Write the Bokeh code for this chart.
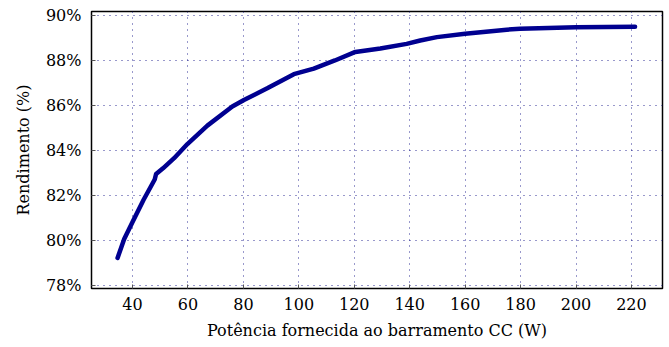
from bokeh.plotting import figure
from bokeh.models import FixedTicker, PrintfTickFormatter, Range1d
from bokeh.embed import file_html
from bokeh.resources import INLINE

potencia = [34.6, 37.0, 40.0, 44.0, 48.0, 48.5, 51.0, 55.0, 59.8, 67.0, 76.0, 80.2, 88.6,
            98.2, 105.4, 113.0, 120.4, 129.4, 138.9, 143.8, 149.8, 160.0, 175.0, 179.8,
            200.0, 221.3]
rendimento = [79.21, 80.05, 80.81, 81.80, 82.70, 82.95, 83.20, 83.65, 84.28, 85.10, 85.95,
              86.24, 86.76, 87.39, 87.64, 88.00, 88.38, 88.53, 88.74, 88.89, 89.04, 89.19,
              89.37, 89.41, 89.48, 89.50]
x_ticks = [40, 60, 80, 100, 120, 140, 160, 180, 200, 220]
y_ticks = [78, 80, 82, 84, 86, 88, 90]
x_label = "Potência fornecida ao barramento CC (W)"
y_label = "Rendimento (%)"

FONT = "DejaVu Serif"

p = figure(width=664, height=342, output_backend="svg", toolbar_location=None,
           x_range=Range1d(25.2, 231.2), y_range=Range1d(77.85, 90.18),
           min_border_left=91, min_border_right=2, min_border_top=11, min_border_bottom=53)

p.line(potencia, rendimento, line_color="#000090", line_width=4.5, line_join="round", line_cap="round")

p.outline_line_color = "black"
p.outline_line_width = 1.5
p.outline_line_alpha = 1.0

for g in (p.xgrid[0], p.ygrid[0]):
    g.grid_line_color = "#000080"
    g.grid_line_dash = "1 5"
    g.grid_line_width = 1
    g.grid_line_alpha = 0.8
p.xgrid[0].ticker = FixedTicker(ticks=x_ticks)
p.ygrid[0].ticker = FixedTicker(ticks=y_ticks)

xa = p.xaxis[0]
xa.ticker = FixedTicker(ticks=x_ticks)
xa.axis_label = x_label
ya = p.yaxis[0]
ya.ticker = FixedTicker(ticks=y_ticks)
ya.formatter = PrintfTickFormatter(format="%d%%")
ya.axis_label = y_label

for ax in (xa, ya):
    ax.major_label_text_font = FONT
    ax.major_label_text_font_size = "16px"
    ax.major_label_text_color = "black"
    ax.axis_label_text_font = FONT
    ax.axis_label_text_font_size = "16px"
    ax.axis_label_text_font_style = "normal"
    ax.axis_label_text_color = "black"
    ax.axis_line_color = None
    ax.major_tick_in = 4
    ax.major_tick_out = 0
    ax.major_tick_line_color = "#555555"
    ax.minor_tick_line_color = None
xa.major_label_standoff = 9
xa.axis_label_standoff = 8
ya.major_label_standoff = 10
ya.axis_label_standoff = 10

open("out.html", "w").write(file_html(p, INLINE))
